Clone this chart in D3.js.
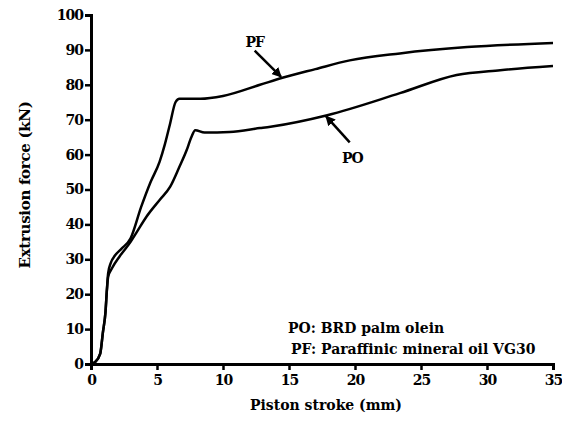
<!DOCTYPE html>
<html>
<head>
<meta charset="utf-8">
<script src="https://cdn.jsdelivr.net/npm/d3@7"></script>
<style>
  body { margin: 0; background: #fff; }
  svg text { font-family: "DejaVu Serif", "Liberation Serif", serif; font-weight: bold; fill: #000; }
</style>
</head>
<body>
<svg width="562" height="421"></svg>
<script>
// PF: paraffinic mineral oil, PO: palm olein
var strokePF = [0, 0.3, 0.7, 0.9, 1.1, 1.2, 1.3, 1.5, 1.8, 2.3, 3.0, 3.8, 4.5, 5.2, 5.6, 6.0, 6.4, 6.7, 8.3, 10, 12.8, 14.5, 17, 19.6, 23.4, 28.5, 35];
var forcePF  = [0, 0.5, 3, 9, 15, 21, 26, 29, 31, 33, 36, 45, 52, 58, 63, 69, 75, 76, 76, 76.8, 80, 82, 84.5, 87, 89, 90.8, 92];

var strokePO = [0, 0.3, 0.7, 0.9, 1.1, 1.2, 1.3, 1.6, 2.2, 3.0, 3.5, 4.2, 5.2, 6.0, 6.7, 7.25, 7.6, 7.9, 8.6, 10.5, 12.8, 13.6, 17.9, 23.4, 27.7, 31, 35];
var forcePO  = [0, 0.5, 3, 9, 15, 21, 25, 27.5, 31, 35, 38, 42.2, 47, 50.8, 56.5, 61.3, 65, 67, 66.3, 66.5, 67.6, 68, 71.3, 77.6, 82.8, 84.2, 85.4];

var xTicks = [0, 5, 10, 15, 20, 25, 30, 35];
var yTicks = [0, 10, 20, 30, 40, 50, 60, 70, 80, 90, 100];

var legendLines = ["PO: BRD palm olein", "PF: Paraffinic mineral oil VG30"];

var svg = d3.select("svg");

var x = d3.scaleLinear().domain([0, 35]).range([91, 553]);
var y = d3.scaleLinear().domain([0, 100]).range([364, 15]);

// axes
var xAxis = svg.append("g")
    .attr("transform", "translate(0," + y(0) + ")")
    .call(d3.axisBottom(x).tickValues(xTicks).tickSize(6).tickPadding(5).tickFormat(d3.format("d")));
var yAxis = svg.append("g")
    .attr("transform", "translate(" + x(0) + ",0)")
    .call(d3.axisLeft(y).tickValues(yTicks).tickSize(6).tickPadding(2).tickFormat(d3.format("d")));

[xAxis, yAxis].forEach(function(a) {
    a.select(".domain").attr("stroke", "#000").attr("stroke-width", 3);
    a.selectAll(".tick line").attr("stroke", "#000").attr("stroke-width", 2.5);
    a.selectAll(".tick text").style("font-size", "14px").style("letter-spacing", "-1px");
});

// curves
var line = d3.line()
    .x(function(d) { return x(d[0]); })
    .y(function(d) { return y(d[1]); })
    .curve(d3.curveMonotoneX);

var pf = strokePF.map(function(s, i) { return [s, forcePF[i]]; });
var po = strokePO.map(function(s, i) { return [s, forcePO[i]]; });

[pf, po].forEach(function(data) {
    svg.append("path")
        .datum(data)
        .attr("fill", "none")
        .attr("stroke", "#000")
        .attr("stroke-width", 2.5)
        .attr("d", line);
});

// arrows
svg.append("defs").append("marker")
    .attr("id", "head")
    .attr("viewBox", "0 0 10 10")
    .attr("refX", 9).attr("refY", 5)
    .attr("markerWidth", 4).attr("markerHeight", 4)
    .attr("orient", "auto")
  .append("path")
    .attr("d", "M0,0 L10,5 L0,10 z")
    .attr("fill", "#000");

// PF label + arrow
svg.append("text").attr("x", x(12.4)).attr("y", 47)
    .attr("text-anchor", "middle").style("font-size", "14px").style("letter-spacing", "-1px").text("PF");
svg.append("line")
    .attr("x1", x(12.4)).attr("y1", y(89.8))
    .attr("x2", x(14.4)).attr("y2", y(82.3))
    .attr("stroke", "#000").attr("stroke-width", 2.5)
    .attr("marker-end", "url(#head)");

// PO label + arrow
svg.append("text").attr("x", x(19.8)).attr("y", 163)
    .attr("text-anchor", "middle").style("font-size", "14px").style("letter-spacing", "-1px").text("PO");
svg.append("line")
    .attr("x1", x(19.6)).attr("y1", y(63.5))
    .attr("x2", x(17.8)).attr("y2", y(71))
    .attr("stroke", "#000").attr("stroke-width", 2.5)
    .attr("marker-end", "url(#head)");

// legend text
svg.selectAll(".legend")
    .data(legendLines)
  .enter().append("text")
    .attr("class", "legend")
    .attr("x", function(d, i) { return i === 0 ? 288 : 291; })
    .attr("y", function(d, i) { return 333 + i * 21; })
    .style("font-size", "14px")
    .text(function(d) { return d; });

// axis labels
svg.append("text")
    .attr("x", 326).attr("y", 410)
    .attr("text-anchor", "middle")
    .style("font-size", "14px")
    .text("Piston stroke (mm)");

svg.append("text")
    .attr("transform", "translate(30,185) rotate(-90)")
    .attr("text-anchor", "middle")
    .style("font-size", "15px").style("letter-spacing", "-0.3px")
    .text("Extrusion force (kN)");
</script>
</body>
</html>
